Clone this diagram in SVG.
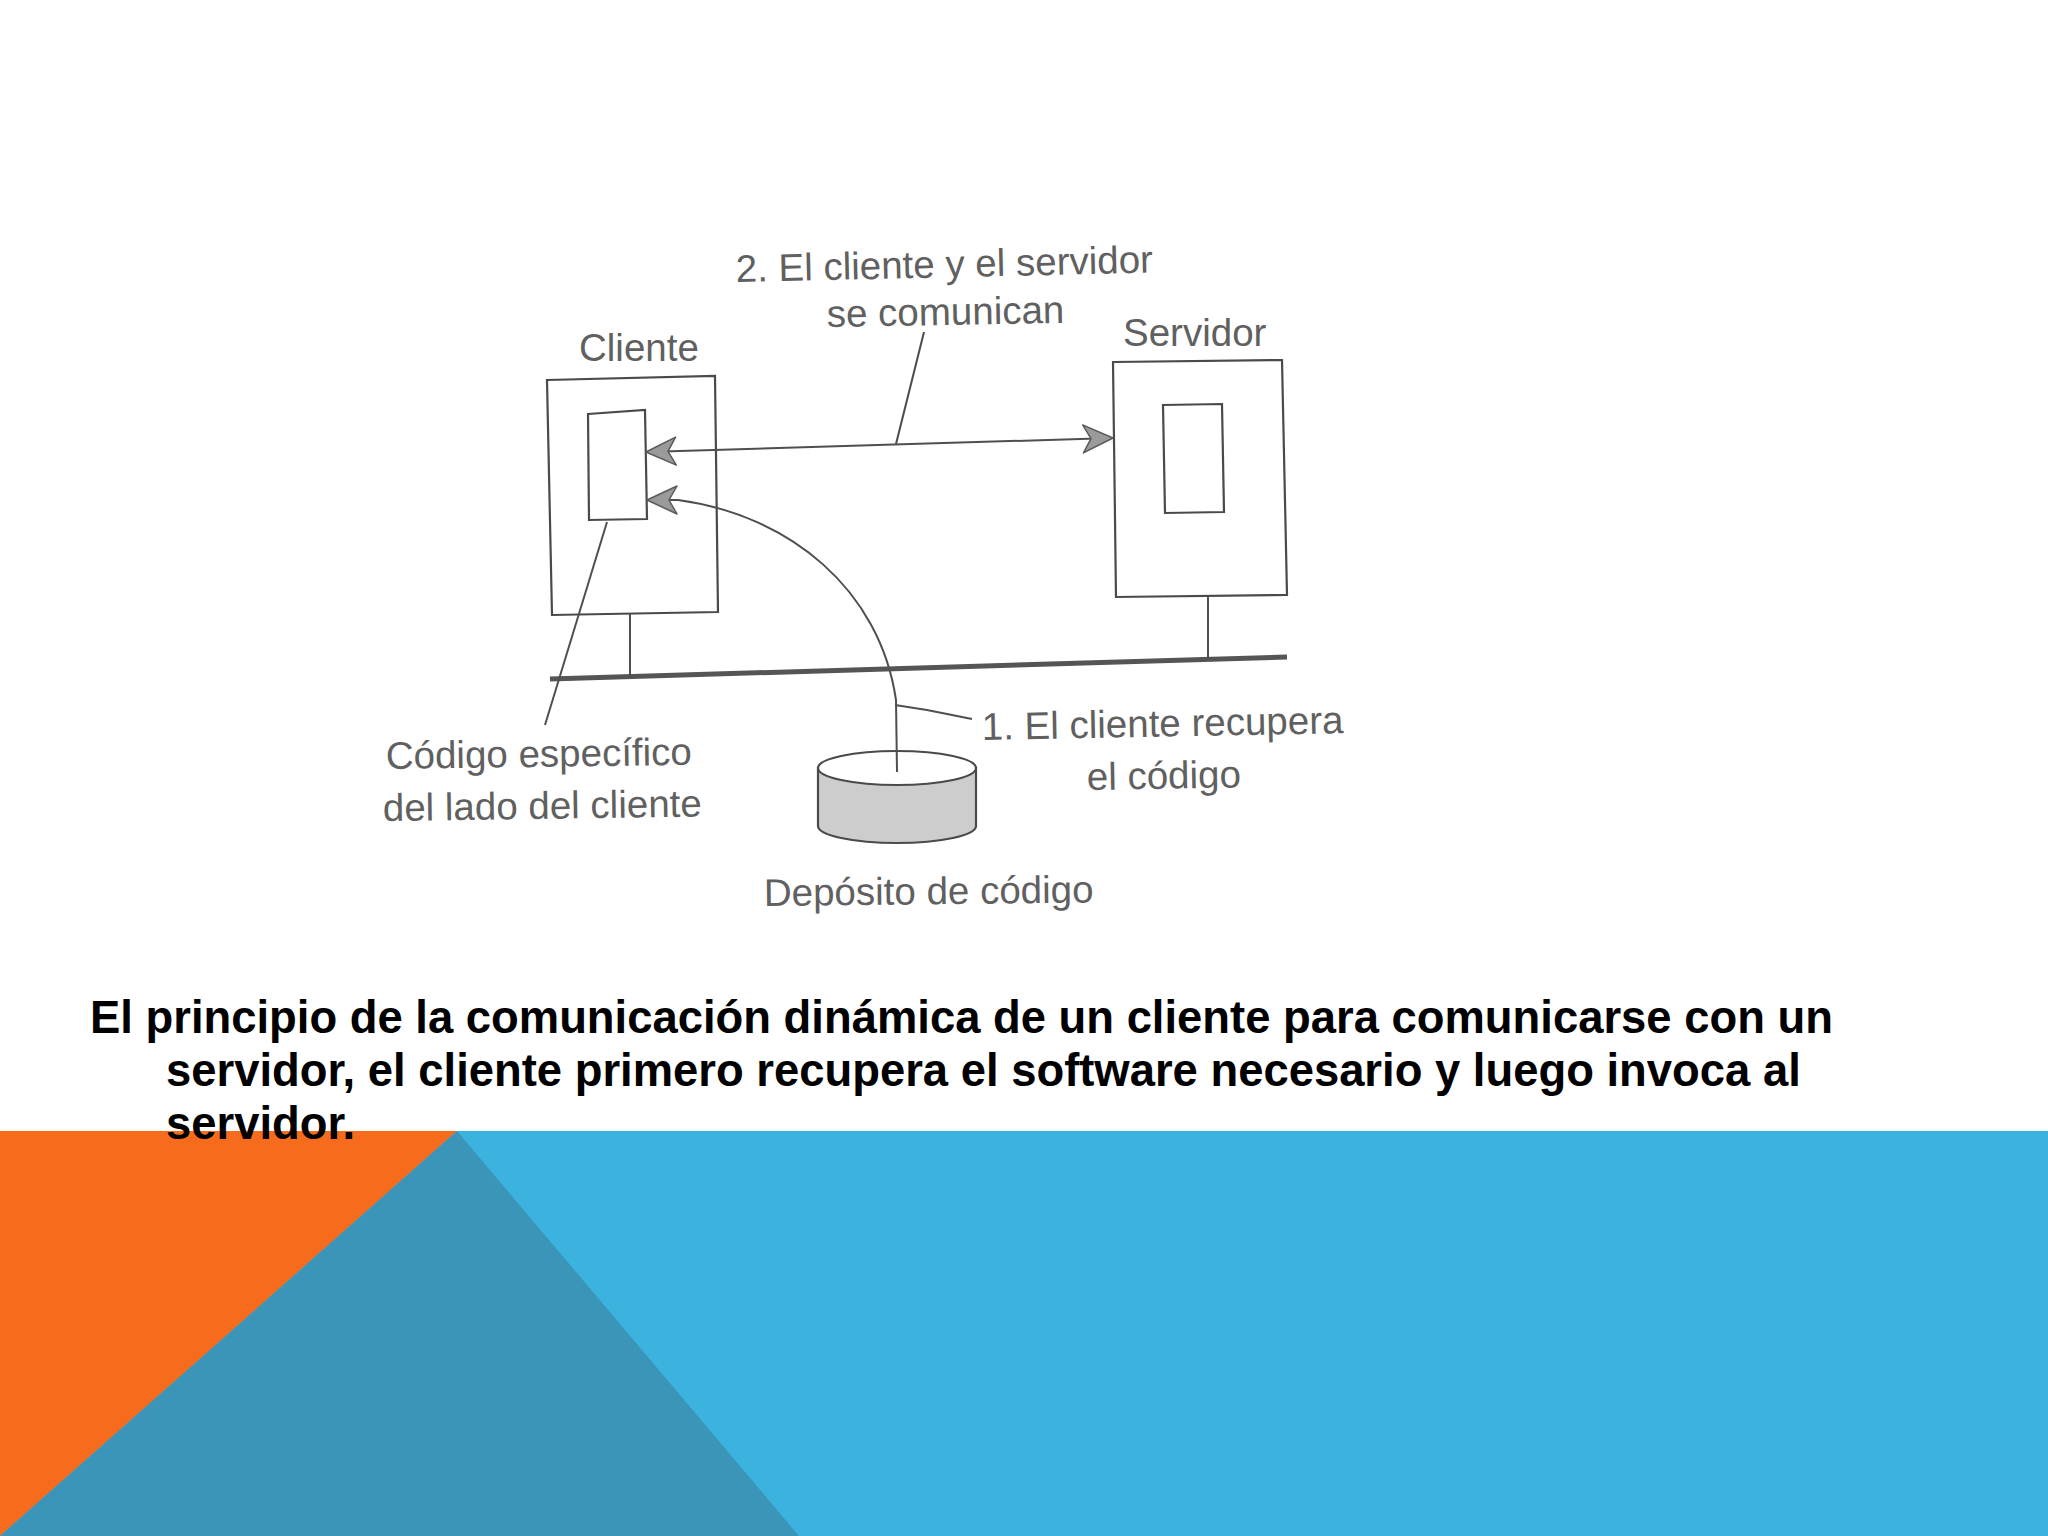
<svg xmlns="http://www.w3.org/2000/svg" width="2048" height="1536" viewBox="0 0 2048 1536">
  <defs>
    <style>
      .lbl { font-family: "Liberation Sans", Arial, sans-serif; font-size: 38.5px; fill: #606060; }
      .box { fill: none; stroke: #4a4a4a; stroke-width: 2.2; }
      .ln { fill: none; stroke: #4f4f4f; stroke-width: 2; }
      .body { font-family: "Liberation Sans", Arial, sans-serif; font-size: 45.4px; font-weight: bold; fill: #000; }
    </style>
    <marker id="ah" viewBox="0 0 32 30" refX="31" refY="15" markerWidth="32" markerHeight="30" markerUnits="userSpaceOnUse" orient="auto-start-reverse">
      <path d="M1,1 L31,15 L1,29 L9,15 Z" fill="#9a9a9a" stroke="#5a5a5a" stroke-width="1.5" stroke-linejoin="round"/>
    </marker>
  </defs>

  <rect x="0" y="0" width="2048" height="1536" fill="#ffffff"/>

  <!-- bottom decorative band -->
  <g id="band">
    <rect x="0" y="1131" width="2048" height="405" fill="#3cb2df"/>
    <polygon points="0,1131 457,1131 0,1536" fill="#f76b1c"/>
    <polygon points="457,1131 799,1536 0,1536" fill="#3b95b8"/>
  </g>

  <!-- nodes -->
  <g id="cliente">
    <path class="box" d="M547,380 L715,376 L718,612 L552,615 Z"/>
    <text class="lbl" x="579" y="361">Cliente</text>
  </g>
  <g id="codigo-cliente">
    <path class="box" d="M588,414 L645,410 L647,519 L589,520 Z"/>
  </g>
  <g id="servidor">
    <path class="box" d="M1113,362 L1282,360 L1287,595 L1116,597 Z"/>
    <text class="lbl" x="1123" y="346">Servidor</text>
  </g>
  <g id="servidor-interno">
    <path class="box" d="M1163,405 L1222,404 L1224,512 L1165,513 Z"/>
  </g>
  <g id="deposito">
    <path d="M818,768 L818,826 A79,17 0 0 0 976,826 L976,768 Z" fill="#cdcdcd" stroke="#4a4a4a" stroke-width="2.2"/>
    <ellipse cx="897" cy="768" rx="79" ry="17" fill="#ffffff" stroke="#4a4a4a" stroke-width="2.2"/>
    <text class="lbl" x="764" y="906" transform="rotate(-0.6 764 906)">Depósito de código</text>
  </g>
  <g id="red">
    <line x1="550" y1="679" x2="1287" y2="657" stroke="#555" stroke-width="5"/>
  </g>

  <!-- connectors -->
  <g id="connectors">
    <line class="ln" x1="630" y1="613" x2="630" y2="677" stroke-width="3"/>
    <line class="ln" x1="1208" y1="597" x2="1208" y2="659" stroke-width="3"/>
    <path class="ln" d="M646,452 L1113,438" marker-start="url(#ah)" marker-end="url(#ah)"/>
    <path class="ln" d="M647,500 L678,500 C790,515 880,590 896,700 L897,772" marker-start="url(#ah)"/>
    <line class="ln" x1="924" y1="332" x2="896" y2="444" stroke-width="1.6"/>
    <line class="ln" x1="607" y1="522" x2="545" y2="725" stroke-width="1.6"/>
    <polyline class="ln" points="895,705 927,710 972,719" stroke-width="1.6"/>
  </g>

  <!-- diagram labels -->
  <g id="labels">
    <text class="lbl" x="736" y="282" transform="rotate(-1.3 736 282)">2. El cliente y el servidor</text>
    <text class="lbl" x="827" y="327" transform="rotate(-1 827 327)">se comunican</text>
    <text class="lbl" x="982" y="740" transform="rotate(-1.1 982 740)">1. El cliente recupera</text>
    <text class="lbl" x="1087" y="790" transform="rotate(-1 1087 790)">el código</text>
    <text class="lbl" x="386" y="769" transform="rotate(-0.8 386 769)">Código específico</text>
    <text class="lbl" x="383" y="821" transform="rotate(-0.8 383 821)">del lado del cliente</text>
  </g>

  <!-- caption -->
  <g id="caption">
    <text class="body" x="90" y="1033">El principio de la comunicación dinámica de un cliente para comunicarse con un</text>
    <text class="body" x="166" y="1086">servidor, el cliente primero recupera el software necesario y luego invoca al</text>
    <text class="body" x="166" y="1139">servidor.</text>
  </g>
</svg>
